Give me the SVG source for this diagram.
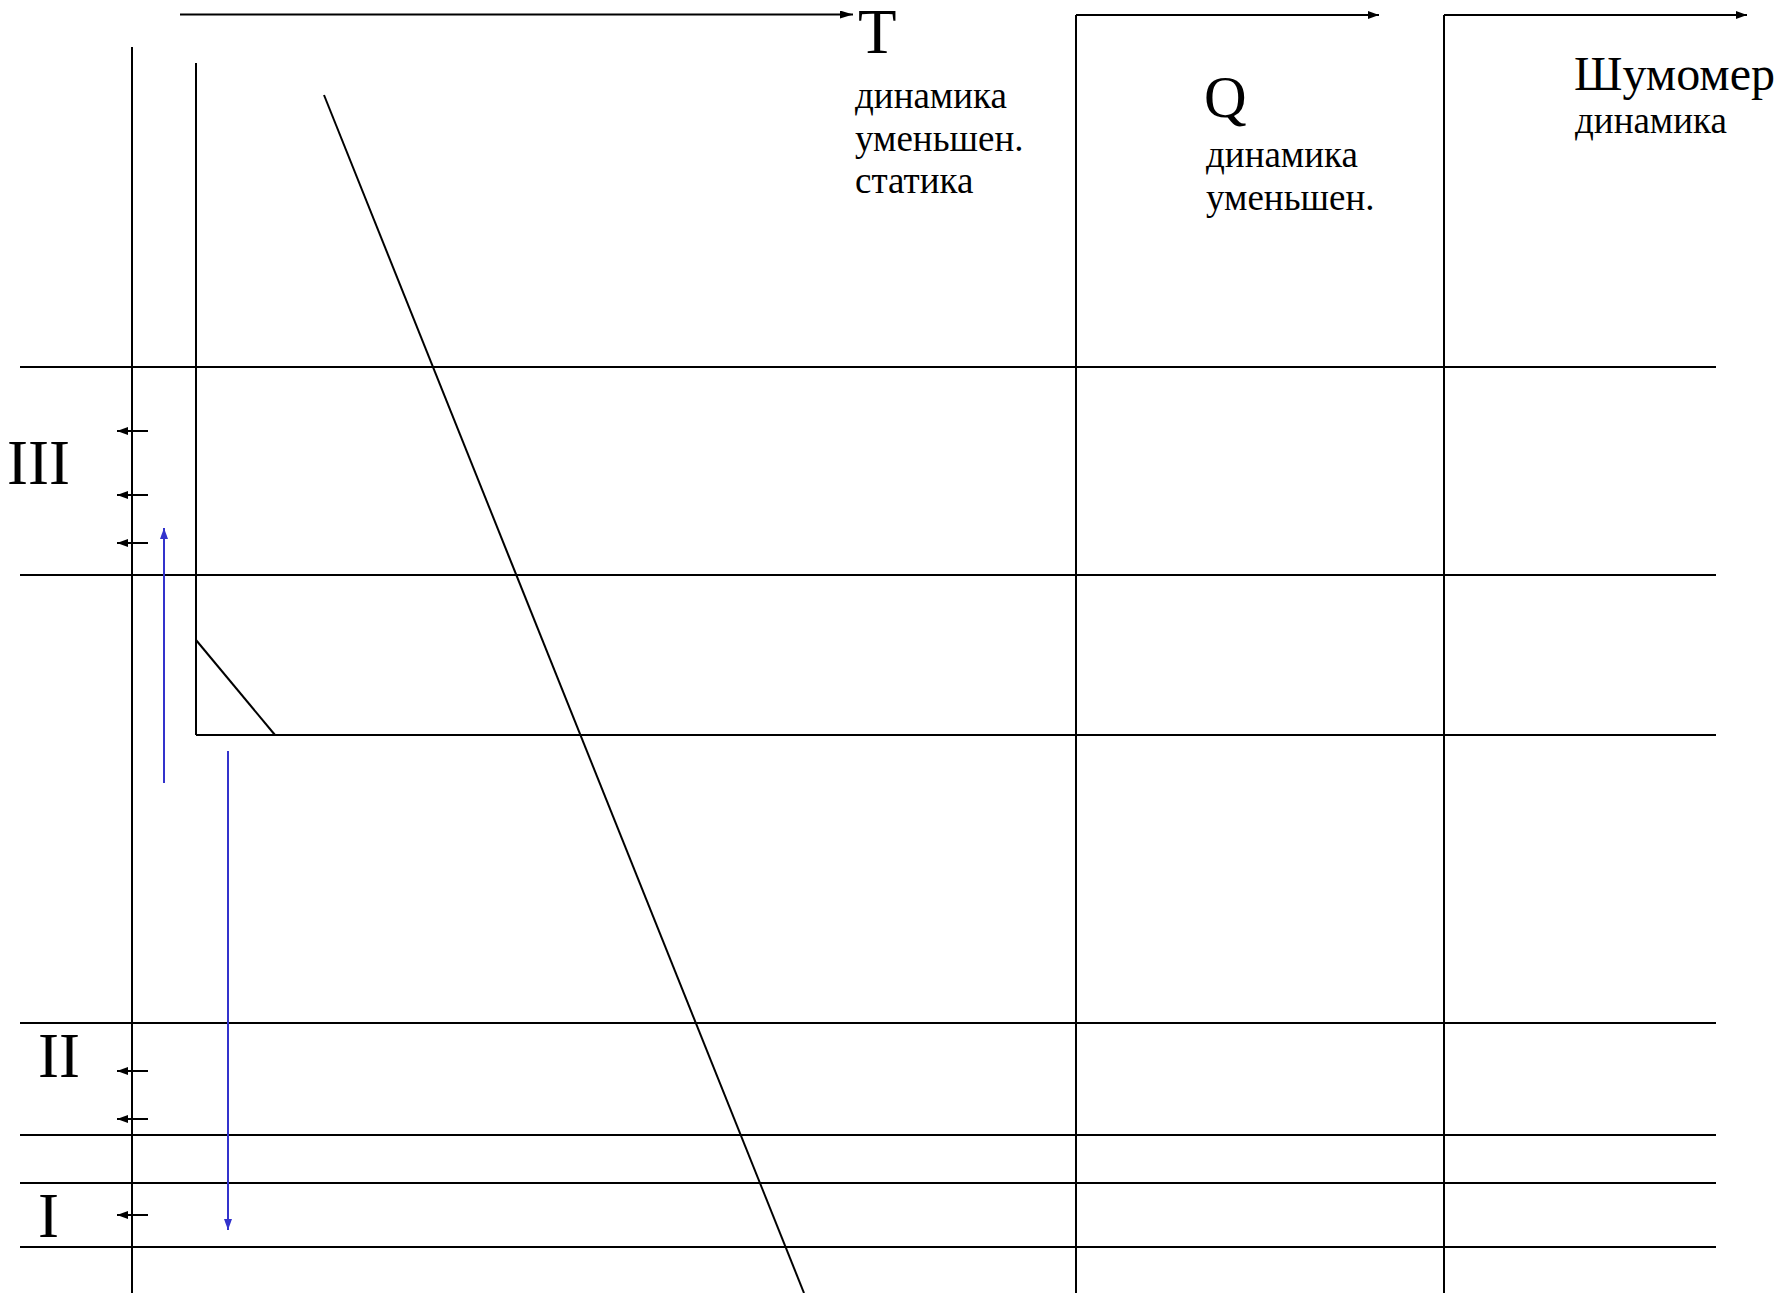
<svg xmlns="http://www.w3.org/2000/svg" width="1783" height="1293" viewBox="0 0 1783 1293">
<style>
.ln{stroke:#000;stroke-width:2;fill:none}
.bl{stroke:#3333cc;stroke-width:2;fill:none}
.big{font-family:"Liberation Serif","Times New Roman",serif;font-size:63px;fill:#000}
.sm{font-family:"Liberation Serif","Times New Roman",serif;font-size:37px;fill:#000}
</style>
<defs>
<marker id="ab" markerUnits="userSpaceOnUse" markerWidth="14" markerHeight="8" refX="13" refY="4" orient="auto"><path d="M0,0 L13,4 L0,8 Z" fill="#000"/></marker>
<marker id="as" markerUnits="userSpaceOnUse" markerWidth="12" markerHeight="8" refX="11" refY="4" orient="auto"><path d="M0,0 L11,4 L0,8 Z" fill="#000"/></marker>
<marker id="au" markerUnits="userSpaceOnUse" markerWidth="12" markerHeight="8" refX="11" refY="4" orient="auto"><path d="M0,0 L11,4 L0,8 Z" fill="#3333cc"/></marker>
</defs>
<rect width="1783" height="1293" fill="#fff"/>
<g id="grid">
<line class="ln" x1="20" y1="367" x2="1716" y2="367"/>
<line class="ln" x1="20" y1="575" x2="1716" y2="575"/>
<line class="ln" x1="196" y1="735" x2="1716" y2="735"/>
<line class="ln" x1="20" y1="1023" x2="1716" y2="1023"/>
<line class="ln" x1="20" y1="1135" x2="1716" y2="1135"/>
<line class="ln" x1="20" y1="1183" x2="1716" y2="1183"/>
<line class="ln" x1="20" y1="1247" x2="1716" y2="1247"/>
<line class="ln" x1="132" y1="47" x2="132" y2="1293"/>
<line class="ln" x1="196" y1="63" x2="196" y2="735"/>
<line class="ln" x1="1076" y1="15" x2="1076" y2="1293"/>
<line class="ln" x1="1444" y1="15" x2="1444" y2="1293"/>
<line class="ln" x1="324" y1="95" x2="804" y2="1293"/>
<line class="ln" x1="196" y1="640" x2="275" y2="735"/>
</g>
<g id="connectors">
<line class="ln" x1="180" y1="14.5" x2="853" y2="14.5" marker-end="url(#ab)"/>
<line class="ln" x1="1076" y1="15" x2="1379" y2="15" marker-end="url(#as)"/>
<line class="ln" x1="1444" y1="15" x2="1747" y2="15" marker-end="url(#as)"/>
<line class="ln" x1="148" y1="431" x2="117" y2="431" marker-end="url(#as)"/>
<line class="ln" x1="148" y1="495" x2="117" y2="495" marker-end="url(#as)"/>
<line class="ln" x1="148" y1="543" x2="117" y2="543" marker-end="url(#as)"/>
<line class="ln" x1="148" y1="1071" x2="117" y2="1071" marker-end="url(#as)"/>
<line class="ln" x1="148" y1="1119" x2="117" y2="1119" marker-end="url(#as)"/>
<line class="ln" x1="148" y1="1215" x2="117" y2="1215" marker-end="url(#as)"/>
<line class="bl" x1="164" y1="783" x2="164" y2="528" marker-end="url(#au)"/>
<line class="bl" x1="228" y1="751" x2="228" y2="1230" marker-end="url(#au)"/>
</g>
<g id="label-T">
<text class="big" x="858" y="53">T</text>
<text class="sm" x="855" y="108">динамика</text>
<text class="sm" x="855" y="151">уменьшен.</text>
<text class="sm" x="855" y="193">статика</text>
</g>
<g id="label-Q">
<text class="big" x="1204" y="117" style="font-size:59px">Q</text>
<text class="sm" x="1206" y="167">динамика</text>
<text class="sm" x="1206" y="210">уменьшен.</text>
</g>
<g id="label-noise">
<text class="big" x="1574" y="90" style="font-size:48px">Шумомер</text>
<text class="sm" x="1575" y="133">динамика</text>
</g>
<g id="zones">
<text class="big" x="7" y="484">III</text>
<text class="big" x="38" y="1077">II</text>
<text class="big" x="38" y="1237">I</text>
</g>
</svg>
